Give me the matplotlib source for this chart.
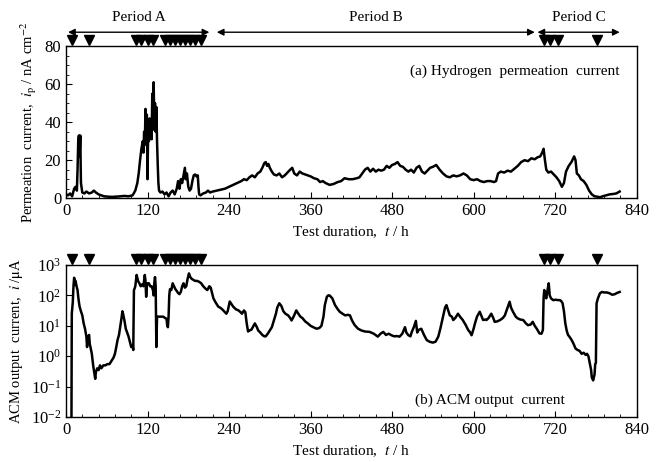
import numpy as np
import matplotlib
matplotlib.use("Agg")
import matplotlib.pyplot as plt
from matplotlib.ticker import MultipleLocator, NullLocator, FixedLocator

plt.rcParams['font.family'] = ['Liberation Serif', 'DejaVu Serif']
plt.rcParams['mathtext.fontset'] = 'stix'

# hydrogen permeation current (nA cm^-2) vs time (h)
perm_t = [0, 3, 6, 9, 12, 14, 16, 17, 18, 19,
          20, 21, 22, 24, 27, 30, 34, 38, 41, 44,
          48, 52, 56, 62, 68, 74, 80, 86, 92, 98,
          102, 105, 107, 109, 111, 113, 114, 115, 116, 117,
          118, 119, 120, 121, 122, 123, 124, 125, 126, 127,
          128, 129, 130, 131, 132, 133, 134, 135, 136, 137,
          139, 142, 145, 148, 151, 154, 157, 160, 163, 165,
          167, 169, 171, 173, 175, 176, 178, 180, 182, 184,
          186, 188, 190, 192, 194, 195, 196, 198, 202, 206,
          209, 212, 216, 222, 228, 234, 240, 246, 252, 258,
          262, 266, 270, 274, 278, 282, 286, 289, 292, 294,
          296, 298, 300, 303, 306, 310, 314, 318, 322, 326,
          330, 333, 336, 340, 344, 348, 352, 356, 360, 365,
          370, 374, 378, 382, 388, 394, 400, 405, 410, 416,
          422, 428, 432, 436, 440, 444, 448, 452, 456, 460,
          464, 468, 472, 476, 480, 484, 488, 492, 496, 500,
          504, 508, 512, 516, 520, 524, 528, 532, 536, 540,
          545, 550, 555, 560, 565, 570, 575, 580, 585, 590,
          595, 600, 605, 610, 615, 620, 625, 630, 633, 636,
          640, 645, 650, 655, 660, 665, 670, 675, 680, 685,
          690, 694, 698, 701, 703, 705, 707, 710, 714, 718,
          722, 726, 730, 733, 736, 740, 744, 748, 750, 752,
          755, 758, 762, 766, 770, 774, 778, 782, 786, 790,
          795, 800, 805, 810, 815]
perm_v = [2, 1.5, 2.5, 1, 5, 6, 4, 15, 30, 33,
          22, 33, 8, 3, 2.5, 3.5, 2.5, 3, 4, 3,
          2, 1.5, 1, 0.8, 0.7, 0.8, 1, 1.2, 1, 1.5,
          4, 8, 13, 20, 26, 30, 24, 35, 28, 47,
          30, 44, 10, 38, 30, 42, 33, 40, 31, 55,
          36, 61, 40, 50, 35, 48, 30, 18, 8, 4,
          3, 3.5, 2, 3, 1, 3, 4, 2, 5, 9,
          5, 10, 8, 12, 16, 10, 13, 6, 4, 5,
          9, 12, 12.5, 11.5, 12, 6, 2, 1.5, 2.5, 3,
          4, 3, 3.5, 4, 4.5, 5, 6, 7, 8, 9,
          10, 9.5, 11, 12, 11, 13, 14, 16, 18.5, 19,
          17, 18, 16, 14, 12.5, 12, 13, 11, 12, 13.5,
          15, 16, 13, 12, 14, 13, 12.5, 12, 11.5, 10.5,
          10, 8.5, 9, 8, 7, 7.5, 8.5, 9, 10.5, 10,
          10, 10.5, 11, 13, 15, 16, 14, 15.5, 14, 15,
          14.5, 15, 17, 16, 17.5, 18, 19, 17, 16.5, 15,
          14, 15, 13.5, 16, 17, 14, 13, 14.5, 16, 16.5,
          17.5, 15, 13, 11.5, 11, 12, 11.5, 12, 13, 12,
          10, 9.5, 10, 9, 8.5, 9, 9, 8.5, 9, 13,
          14, 13.5, 14.5, 14, 15.5, 17, 19, 20, 19.5, 21,
          20.5, 21.5, 22, 24, 26, 20, 15, 13.5, 14, 12.5,
          11, 9, 6, 8, 14, 17, 19, 22, 20, 13,
          12, 10, 9, 7, 4, 2, 1, 0.8, 0.5, 1,
          1.5, 2, 2.2, 2.5, 3.5]

# ACM output current (uA) vs time (h)
acm_t = [8, 8.5, 10, 11, 12, 13, 14, 15, 16, 17,
         18, 19, 20, 22, 24, 26, 28, 30, 31, 32,
         34, 35, 36, 38, 40, 42, 43, 44, 46, 48,
         50, 52, 55, 58, 61, 64, 67, 70, 72, 74,
         76, 78, 80, 82, 83, 84, 86, 88, 90, 92,
         94, 96, 98, 99, 100, 101, 102, 104, 106, 108,
         110, 112, 114, 116, 117, 118, 119, 120, 122, 124,
         126, 128, 129, 130, 131, 132, 133, 134, 135, 137,
         140, 143, 146, 148, 149, 150, 151, 152, 153, 155,
         157, 159, 161, 163, 165, 167, 169, 171, 173, 175,
         177, 179, 181, 183, 185, 187, 190, 193, 196, 199,
         202, 205, 208, 211, 213, 215, 217, 220, 224, 228,
         231, 234, 236, 238, 241, 244, 246, 250, 254, 257,
         259, 262, 264, 266, 268, 270, 273, 276, 278, 281,
         283, 286, 289, 292, 294, 297, 300, 303, 306, 309,
         311, 314, 317, 320, 323, 327, 330, 332, 335, 339,
         342, 345, 348, 352, 356, 360, 364, 369, 373, 376,
         379, 381, 384, 386, 388, 392, 396, 400, 403, 407,
         411, 415, 418, 421, 425, 430, 435, 440, 447, 453,
         459, 463, 467, 471, 475, 479, 483, 487, 491, 495,
         499, 501, 504, 507, 509, 512, 515, 517, 519, 523,
         527, 531, 535, 540, 544, 548, 551, 555, 558, 560,
         563, 565, 568, 570, 573, 577, 580, 584, 588, 592,
         595, 597, 600, 602, 605, 609, 612, 614, 617, 619,
         622, 626, 629, 631, 635, 639, 643, 646, 650, 653,
         655, 658, 662, 665, 669, 673, 677, 680, 684, 687,
         690, 693, 697, 700, 702, 703, 704, 705, 707, 709,
         710.6, 712, 714, 717, 721, 724, 727, 729, 731, 733,
         735, 737, 739, 741, 744, 747, 750, 753, 756, 759,
         762, 765, 767, 769, 771, 773, 774, 776, 778, 779,
         780, 781, 783, 786, 789, 792, 796, 800, 804, 808,
         811, 813, 815]
acm_v = [0.005, 25, 60, 200, 380, 220, 300, 230, 180, 150,
         90, 60, 43, 30, 22, 12, 8, 4.4, 2, 4,
         5, 2.5, 2, 1.2, 0.5, 0.25, 0.18, 0.3, 0.4, 0.35,
         0.5, 0.4, 0.5, 0.5, 0.55, 0.55, 0.7, 0.9, 1.2, 2,
         3.5, 5, 10, 20, 30, 25, 15, 8, 6, 4.5,
         3, 2, 2.2, 1.6, 150, 170, 200, 470, 300, 250,
         200, 230, 200, 470, 300, 90, 200, 250, 250, 200,
         200, 150, 100, 250, 400, 200, 2, 20, 20, 20,
         20, 20, 18, 17, 10, 9, 20, 100, 160, 150,
         250, 200, 160, 140, 120, 110, 130, 200, 250, 180,
         200, 350, 530, 400, 350, 330, 300, 300, 280, 250,
         200, 170, 150, 200, 180, 120, 80, 60, 43, 38,
         33, 28, 25, 30, 63, 50, 43, 35, 32, 28,
         25, 32, 28, 12, 6.5, 7, 7.5, 10, 12, 9,
         7, 6, 5, 4.5, 4.5, 5.5, 7, 9, 15, 25,
         40, 55, 45, 30, 25, 22, 18, 15, 20, 32,
         25, 20, 18, 14, 12, 10, 9, 8, 8.5, 10,
         20, 48, 90, 100, 100, 80, 48, 35, 29, 25,
         22, 23, 22, 15, 10.5, 8, 7, 6.5, 6.3, 5.5,
         4.4, 5.5, 6.3, 5, 5.5, 4.9, 4.5, 4.6, 4.4, 5.5,
         9, 6, 4.9, 4.5, 6.3, 9, 14.5, 6, 7.3, 8,
         5, 3.4, 3, 2.8, 3, 4.4, 8, 20, 40, 48,
         30, 22, 20, 15.5, 18, 25, 20, 15.5, 11, 7.3,
         6, 4.9, 8, 12, 20, 29, 20, 15.5, 16, 15.5,
         18, 25, 18, 13.5, 14, 15.5, 18, 22, 40, 62,
         40, 29, 20, 17.5, 16, 15.5, 12, 10.5, 11, 13.5,
         10, 8, 5.6, 5.5, 7.3, 80, 150, 100, 80, 160,
         250, 100, 80, 70, 72, 70, 70, 65, 55, 30,
         12, 7, 5, 4.4, 3.5, 2.6, 1.8, 1.6, 1.5, 1.2,
         1.3, 1.1, 1.2, 1.0, 0.6, 0.35, 0.2, 0.16, 0.25, 0.55,
         0.6, 55, 80, 118, 130, 125, 125, 118, 105, 110,
         120, 125, 130]

# event markers (h) and test periods
events = [9, 34, 103, 111, 120, 128, 146, 153, 160, 168, 175, 183, 190, 199,
          704, 712, 724, 781]
periods = ['Period A', 'Period B', 'Period C']
period_start = [3, 222, 694]
period_end = [211, 690, 815]

fig = plt.figure(figsize=(6.62, 4.62), dpi=100)
ax1 = fig.add_axes([0.0997, 0.571, 0.862, 0.329])
ax2 = fig.add_axes([0.0997, 0.0974, 0.862, 0.329])

ax1.plot(perm_t, perm_v, color='black', lw=1.8)
ax1.set_xlim(0, 840)
ax1.set_ylim(0, 80)
ax1.yaxis.set_major_locator(MultipleLocator(20))
ax1.yaxis.set_minor_locator(MultipleLocator(5))
ax1.set_ylabel(r'Permeation  current,  $i_\mathrm{p}$ / nA cm$^{-2}$', fontsize=10.5)
ax1.text(0.97, 0.835, '(a) Hydrogen  permeation  current', transform=ax1.transAxes,
         ha='right', va='center', fontsize=11)

ax2.semilogy(acm_t, acm_v, color='black', lw=1.8)
ax2.set_xlim(0, 840)
ax2.set_ylim(1e-2, 1e3)
ax2.yaxis.set_major_locator(FixedLocator([1e-2, 1e-1, 1, 10, 100, 1000]))
ax2.yaxis.set_minor_locator(NullLocator())
ax2.set_ylabel(r'ACM output  current,  $i$ /$\mathrm{\mu}$A', fontsize=10.5)
ax2.text(0.874, 0.112, '(b) ACM output  current', transform=ax2.transAxes,
         ha='right', va='center', fontsize=11)

for ax in (ax1, ax2):
    ax.xaxis.set_major_locator(MultipleLocator(120))
    ax.xaxis.set_minor_locator(MultipleLocator(24))
    ax.tick_params(which='both', direction='in', labelsize=12, top=False, right=False)
    ax.tick_params(which='major', length=4)
    ax.tick_params(which='minor', length=2)
    ax.set_xlabel(r'Test duration,  $t$ / h', fontsize=11)
    for s in ax.spines.values():
        s.set_linewidth(1.0)
    ax.plot(events, [1.04] * len(events), 'kv', ms=7,
            transform=ax.get_xaxis_transform(), clip_on=False)

for name, a, b in zip(periods, period_start, period_end):
    ax1.annotate('', xy=(a, 1.092), xytext=(b, 1.092),
                 xycoords=('data', 'axes fraction'), textcoords=('data', 'axes fraction'),
                 arrowprops=dict(arrowstyle='<|-|>', color='black', lw=1.0,
                                 mutation_scale=10, shrinkA=0, shrinkB=0),
                 annotation_clip=False)
    ax1.text((a + b) / 2, 1.19, name, transform=ax1.get_xaxis_transform(),
             ha='center', va='center', fontsize=11)

fig.savefig('out.png', dpi=100)
